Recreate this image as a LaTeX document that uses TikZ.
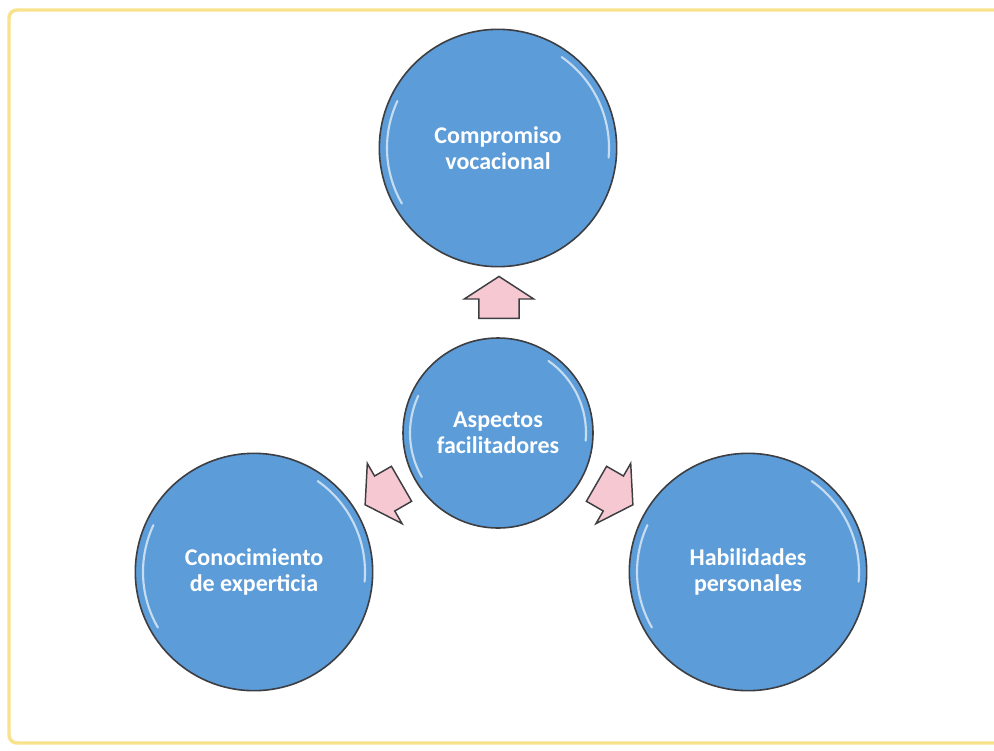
\documentclass[tikz,border=0pt]{standalone}
\usepackage{fontspec}
\setmainfont{Carlito}
\usetikzlibrary{shapes.arrows}
\definecolor{ballblue}{RGB}{92,156,216}
\definecolor{ballline}{RGB}{60,62,66}
\definecolor{arrowpink}{RGB}{246,200,210}
\definecolor{framey}{RGB}{248,226,140}
\tikzset{
  ball/.style={circle, draw=ballline, line width=1.2pt, fill=ballblue, inner sep=0pt,
    text=white, font=\bfseries\fontsize{18}{19.5}\selectfont, align=center},
  bigball/.style={ball, minimum size=178pt},
  smallball/.style={ball, minimum size=142.5pt},
  blockarrow/.style={single arrow, draw=ballline, line width=1.1pt, fill=arrowpink,
    inner xsep=0pt, inner ysep=14.6pt, minimum height=31.5pt,
    single arrow head extend=10.9pt, single arrow tip angle=114},
  gloss/.style={white, opacity=0.65, line width=1.6pt, line cap=round}
}
\begin{document}
\begin{tikzpicture}[x=0.75pt,y=-0.75pt]
\useasboundingbox (0,0) rectangle (994,750);
\clip (0,0) rectangle (994,750);
\fill[white] (0,0) rectangle (994,750);
\draw[framey, line width=2.6pt, rounded corners=6pt] (9,10) rectangle (1010,743);

\node[bigball] (top) at (498,148) {Compromiso\\vocacional};
\node[bigball] (left) at (254,572) {Conocimiento\\de experticia};
\node[bigball] (right) at (748,572) {Habilidades\\personales};
\node[smallball] (mid) at (498,433) {Aspectos\\facilitadores};

\foreach \b/\r in {top/111,left/111,right/111,mid/88}{
  \draw[gloss] (\b.center) ++(150:\r) arc (150:205:\r);
  \draw[gloss] (\b.center) ++(5:\r) arc (5:-55:\r);
}

\node[blockarrow, rotate=90] (aup) at (499,304) {};
\node[blockarrow, rotate=210] (aleft) at (389,491) {};
\node[blockarrow, rotate=-30] (aright) at (609,491) {};
\end{tikzpicture}
\end{document}
